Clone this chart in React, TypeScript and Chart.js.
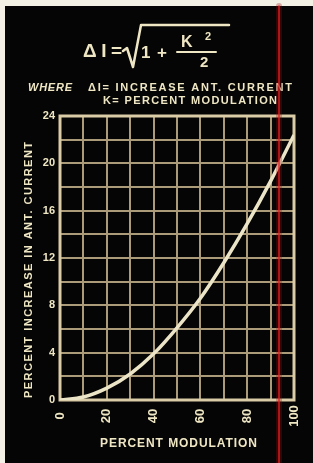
import React, { useEffect, useRef } from "react";
import { Chart, registerables } from "chart.js";

Chart.register(...registerables);

// Data
const modulation = [0, 10, 20, 30, 40, 50, 60, 70, 80, 90, 100];
const increase = [0, 0.25, 1.0, 2.2, 3.9, 6.1, 8.6, 11.6, 14.9, 18.5, 22.4];
const xTickLabels = [0, 20, 40, 60, 80, 100];
const yTickLabels = [0, 4, 8, 12, 16, 20, 24];
const scanLine = [93.6];

const CREAM = "#efe7c4";
const GRID = "#ab9b78";
const FRAME = "#d9cca6";
const FONT = '"Liberation Sans", "DejaVu Sans", sans-serif';

function fitText(ctx: CanvasRenderingContext2D, text: string, x: number, y: number, width: number) {
  (ctx as any).letterSpacing = "0px";
  ctx.textAlign = "left";
  const w = ctx.measureText(text).width;
  const sp = text.length > 1 ? (width - w) / (text.length - 1) : 0;
  (ctx as any).letterSpacing = sp + "px";
  ctx.fillText(text, x, y);
  (ctx as any).letterSpacing = "0px";
}

const decor = {
  id: "decor",
  beforeDraw(chart: any) {
    const { ctx, width, height } = chart;
    ctx.save();
    ctx.fillStyle = "#f3f1e6";
    ctx.fillRect(0, 0, width, height);
    ctx.fillStyle = "#060505";
    ctx.fillRect(5, 6, width - 5, height - 6);
    ctx.restore();
  },
  beforeDatasetsDraw(chart: any) {
    const { ctx, chartArea: a } = chart;
    ctx.save();
    ctx.strokeStyle = FRAME;
    ctx.lineWidth = 3;
    ctx.strokeRect(a.left, a.top, a.right - a.left, a.bottom - a.top);
    ctx.restore();
  },
  afterDraw(chart: any) {
    const { ctx, height } = chart;
    const xs = chart.scales.x;
    ctx.save();
    ctx.fillStyle = CREAM;
    ctx.strokeStyle = CREAM;
    ctx.textBaseline = "alphabetic";

    // Formula
    ctx.font = `bold 19px ${FONT}`;
    fitText(ctx, "ΔI=", 83, 57, 39);
    ctx.lineWidth = 2.5;
    ctx.lineJoin = "round";
    ctx.lineCap = "round";
    ctx.beginPath();
    ctx.moveTo(123, 51);
    ctx.lineTo(127, 48);
    ctx.lineTo(133, 67);
    ctx.lineTo(141, 25);
    ctx.lineTo(229, 25);
    ctx.stroke();
    ctx.font = `bold 17px ${FONT}`;
    fitText(ctx, "1 +", 141, 58, 26);
    ctx.font = `bold 16px ${FONT}`;
    fitText(ctx, "K", 181, 47, 11);
    ctx.font = `bold 11px ${FONT}`;
    fitText(ctx, "2", 205, 40, 7);
    ctx.lineWidth = 2;
    ctx.beginPath();
    ctx.moveTo(177, 52);
    ctx.lineTo(216, 52);
    ctx.stroke();
    ctx.font = `bold 15px ${FONT}`;
    fitText(ctx, "2", 200, 67, 9);

    // Definitions
    ctx.font = `italic bold 11px ${FONT}`;
    fitText(ctx, "WHERE", 28, 91, 44);
    ctx.font = `bold 11px ${FONT}`;
    fitText(ctx, "ΔI= INCREASE ANT. CURRENT", 88, 91, 204);
    fitText(ctx, "K= PERCENT MODULATION", 103, 104, 174);

    // Y title
    ctx.save();
    ctx.translate(29, 270);
    ctx.rotate(-Math.PI / 2);
    ctx.textBaseline = "middle";
    ctx.font = `bold 11px ${FONT}`;
    fitText(ctx, "PERCENT INCREASE IN ANT. CURRENT", -128, 0, 256);
    ctx.restore();

    // X title
    ctx.font = `bold 12px ${FONT}`;
    fitText(ctx, "PERCENT MODULATION", 100, 447, 157);

    // X tick labels (rotated, centred)
    ctx.font = `bold 13px ${FONT}`;
    for (const v of xTickLabels) {
      const x = xs.getPixelForValue(v);
      ctx.save();
      ctx.translate(x, 416);
      ctx.rotate(-Math.PI / 2);
      ctx.textAlign = "center";
      ctx.textBaseline = "middle";
      ctx.fillText(String(v), 0, 0);
      ctx.restore();
    }

    // red scan line
    for (const v of scanLine) {
      const x = xs.getPixelForValue(v);
      ctx.strokeStyle = "rgba(150,10,10,0.3)";
      ctx.lineWidth = 6;
      ctx.beginPath();
      ctx.moveTo(x, 6);
      ctx.lineTo(x, height);
      ctx.stroke();
      ctx.strokeStyle = "rgba(235,30,30,0.9)";
      ctx.lineWidth = 1.5;
      ctx.beginPath();
      ctx.moveTo(x, 6);
      ctx.lineTo(x, height);
      ctx.stroke();
    }
    ctx.restore();
  },
};

export default function App() {
  const ref = useRef<HTMLCanvasElement>(null);
  useEffect(() => {
    if (!ref.current) return;
    const chart = new Chart(ref.current, {
      type: "line",
      data: {
        datasets: [
          {
            data: modulation.map((m, i) => ({ x: m, y: increase[i] })),
            borderColor: "#ebe4c6",
            borderWidth: 3.5,
            pointRadius: 0,
            fill: false,
            cubicInterpolationMode: "monotone",
          },
        ],
      },
      options: {
        animation: false,
        responsive: false,
        devicePixelRatio: 1,
        layout: { padding: { left: 0, top: 116, right: 19, bottom: 0 } },
        plugins: { legend: { display: false }, tooltip: { enabled: false }, title: { display: false } },
        scales: {
          x: {
            type: "linear",
            min: 0,
            max: 100,
            ticks: { stepSize: 10, display: false },
            grid: { color: GRID, lineWidth: 2, drawTicks: false },
            border: { display: false },
            afterFit: (s: any) => {
              s.height = 63;
            },
          },
          y: {
            type: "linear",
            min: 0,
            max: 24,
            ticks: {
              stepSize: 2,
              color: CREAM,
              padding: 5,
              font: { family: FONT, size: 11, weight: "bold" },
              callback: (v: any) => (yTickLabels.includes(Number(v)) ? String(v) : ""),
            },
            grid: { color: GRID, lineWidth: 2, drawTicks: false },
            border: { display: false },
            afterFit: (s: any) => {
              s.width = 60;
            },
          },
        },
      } as any,
      plugins: [decor],
    });
    return () => chart.destroy();
  }, []);
  return (
    <div style={{ width: 313, height: 463 }}>
      <style>{"body{margin:0}"}</style>
      <canvas ref={ref} width={313} height={463} style={{ display: "block" }} />
    </div>
  );
}
